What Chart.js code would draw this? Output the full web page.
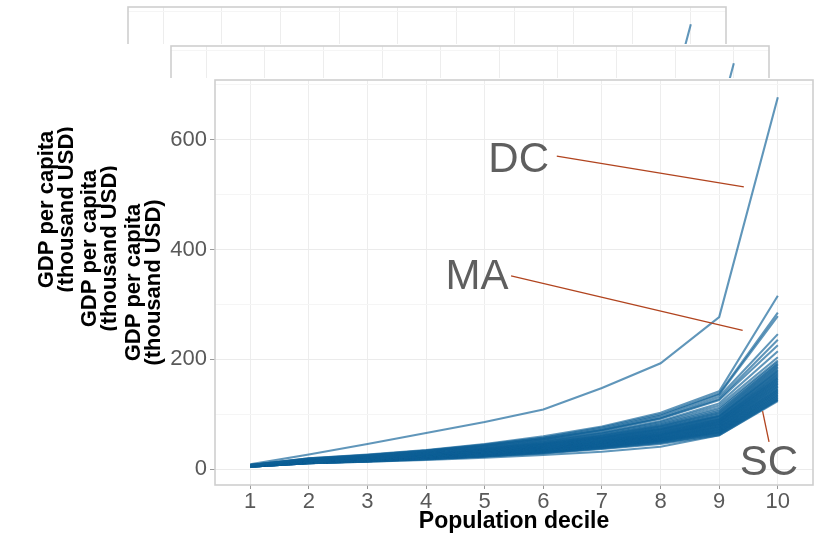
<!DOCTYPE html>
<html>
<head>
<meta charset="utf-8">
<script src="https://cdn.jsdelivr.net/npm/chart.js@4.4.1/dist/chart.umd.min.js"></script>
<style>
  body { margin: 0; background: #fff; overflow: hidden; }
  .panel { position: absolute; background: #fff; }
</style>
</head>
<body>
<canvas id="panel1" class="panel" width="713" height="461" style="left:30px;top:5px"></canvas>
<canvas id="panel2" class="panel" width="713" height="461" style="left:73px;top:44px"></canvas>
<canvas id="panel3" class="panel" width="713" height="461" style="left:117px;top:78px"></canvas>
<script>
const deciles = [1, 2, 3, 4, 5, 6, 7, 8, 9, 10];

const stateCodes = [
  "DC", "MA", "NY", "CT", "CA", "NJ", "WA", "IL", "MD", "DE", "CO", "MN", "AK",
  "WY", "ND", "NE", "VA", "TX", "NH", "HI", "IA", "SD", "PA", "OR", "RI", "UT",
  "KS", "WI", "OH", "GA", "NC", "IN", "NV", "LA", "MI", "TN", "AZ", "MO", "VT",
  "FL", "OK", "ME", "NM", "KY", "AL", "ID", "MT", "AR", "WV", "MS", "SC"
];

// GDP per capita (thousand USD) by population decile, one row per state
const stateGdp = [
  [9, 27, 46, 66, 86, 109, 148, 193, 277, 677],
  [8, 20, 27, 35, 46, 60, 78, 103, 142, 316],
  [8, 20, 26, 34, 45, 58, 76, 100, 138, 285],
  [8, 19, 26, 34, 44, 57, 74, 98, 136, 279],
  [7, 18, 25, 33, 43, 55, 72, 95, 132, 246],
  [8, 19, 25, 33, 43, 55, 71, 93, 128, 236],
  [7, 18, 24, 32, 42, 54, 70, 92, 126, 226],
  [7, 17, 23, 31, 40, 52, 67, 88, 120, 215],
  [8, 18, 24, 31, 40, 51, 66, 86, 116, 204],
  [7, 17, 23, 30, 39, 50, 65, 84, 112, 198],
  [7, 17, 22, 29, 38, 49, 63, 82, 109, 195],
  [7, 16, 22, 29, 38, 48, 62, 80, 106, 192],
  [8, 17, 23, 29, 37, 47, 61, 79, 104, 190],
  [7, 16, 22, 28, 37, 47, 60, 78, 102, 187],
  [7, 16, 21, 28, 36, 46, 59, 76, 100, 185],
  [7, 16, 21, 27, 35, 45, 58, 75, 98, 182],
  [7, 16, 21, 27, 35, 45, 58, 74, 97, 180],
  [6, 15, 20, 27, 34, 44, 57, 73, 96, 178],
  [7, 16, 21, 27, 34, 44, 56, 72, 95, 176],
  [7, 15, 20, 26, 34, 43, 55, 71, 93, 174],
  [7, 15, 20, 26, 33, 42, 54, 70, 92, 172],
  [6, 15, 20, 26, 33, 42, 54, 69, 91, 170],
  [6, 15, 20, 25, 32, 41, 53, 68, 90, 168],
  [6, 14, 19, 25, 32, 41, 52, 67, 89, 166],
  [7, 15, 19, 25, 32, 40, 52, 66, 88, 165],
  [6, 14, 19, 25, 31, 40, 51, 65, 87, 163],
  [6, 14, 19, 24, 31, 39, 50, 64, 86, 161],
  [6, 14, 19, 24, 31, 39, 50, 64, 85, 160],
  [6, 14, 18, 24, 30, 38, 49, 63, 84, 158],
  [6, 14, 18, 24, 30, 38, 49, 62, 83, 156],
  [6, 13, 18, 23, 30, 38, 48, 62, 82, 155],
  [6, 13, 18, 23, 29, 37, 48, 61, 81, 153],
  [6, 13, 18, 23, 29, 37, 47, 60, 80, 151],
  [6, 13, 17, 23, 29, 36, 46, 59, 79, 150],
  [6, 13, 17, 22, 28, 36, 46, 59, 78, 148],
  [6, 13, 17, 22, 28, 35, 45, 58, 77, 146],
  [6, 13, 17, 22, 28, 35, 45, 57, 76, 145],
  [6, 12, 17, 22, 27, 35, 44, 56, 75, 143],
  [6, 12, 16, 21, 27, 34, 44, 56, 74, 142],
  [6, 12, 16, 21, 27, 34, 43, 55, 73, 140],
  [6, 12, 16, 21, 26, 33, 43, 54, 72, 139],
  [6, 12, 16, 21, 26, 33, 42, 54, 71, 137],
  [5, 12, 16, 20, 26, 33, 42, 53, 70, 136],
  [5, 12, 16, 20, 25, 32, 41, 52, 69, 134],
  [5, 12, 15, 20, 25, 32, 41, 52, 68, 133],
  [5, 11, 15, 20, 25, 31, 40, 51, 67, 131],
  [5, 11, 15, 19, 24, 31, 40, 50, 66, 130],
  [5, 11, 15, 19, 24, 30, 39, 49, 65, 128],
  [5, 11, 15, 19, 24, 30, 38, 48, 64, 127],
  [5, 11, 14, 18, 23, 29, 37, 46, 62, 126],
  [5, 11, 14, 17, 21, 26, 32, 41, 62, 124]
];

const yTickLabels = [0, 200, 400, 600];

// callouts in data units: label, text anchor, leader line start and end
const calloutLabels = ["DC", "MA", "SC"];
const calloutTextAt = [[5.58, 563], [4.87, 350], [9.85, 10]];
const calloutLineFrom = [[6.23, 570], [5.45, 352], [9.74, 106]];
const calloutLineTo = [[9.42, 514], [9.40, 253], [9.85, 50]];

const FONT = '"Liberation Sans", Arial, Helvetica, sans-serif';
Chart.defaults.font.family = FONT;

// frame round the panel plus the state callouts
const panelDecor = {
  id: "panelDecor",
  afterDatasetsDraw(chart) {
    const { ctx, chartArea: a } = chart;
    const xs = chart.scales.x;
    const ys = chart.scales.y;
    ctx.save();
    ctx.strokeStyle = "#cfcfcf";
    ctx.lineWidth = 1.6;
    ctx.strokeRect(a.left, a.top, a.right - a.left, a.bottom - a.top);

    calloutLabels.forEach((label, i) => {
      ctx.strokeStyle = "#b1441f";
      ctx.lineWidth = 1.3;
      ctx.beginPath();
      ctx.moveTo(xs.getPixelForValue(calloutLineFrom[i][0]), ys.getPixelForValue(calloutLineFrom[i][1]));
      ctx.lineTo(xs.getPixelForValue(calloutLineTo[i][0]), ys.getPixelForValue(calloutLineTo[i][1]));
      ctx.stroke();

      ctx.fillStyle = "#5f5f5f";
      ctx.font = "42px " + FONT;
      ctx.textAlign = "center";
      ctx.textBaseline = "middle";
      ctx.fillText(label, xs.getPixelForValue(calloutTextAt[i][0]), ys.getPixelForValue(calloutTextAt[i][1]));
    });
    ctx.restore();
  }
};

function buildChart(canvasId) {
  const datasets = stateCodes.map((code, i) => ({
    label: code,
    data: deciles.map((d, j) => ({ x: d, y: stateGdp[i][j] })),
    borderColor: "rgba(14, 96, 150, 0.66)",
    borderWidth: 2.1,
    pointRadius: 0,
    tension: 0,
    fill: false
  }));

  return new Chart(document.getElementById(canvasId), {
    type: "line",
    data: { datasets: datasets },
    plugins: [panelDecor],
    options: {
      responsive: false,
      animation: false,
      devicePixelRatio: 1,
      layout: { autoPadding: false, padding: { top: 2, right: 17, bottom: 0, left: 0 } },
      plugins: { legend: { display: false }, tooltip: { enabled: false } },
      scales: {
        x: {
          type: "linear",
          min: 0.4,
          max: 10.6,
          afterFit: scale => {
            scale.height = 54;
            scale.paddingLeft = 0;
            scale.paddingRight = 0;
          },
          border: { display: false },
          grid: { color: "#ededed", tickColor: "#999", tickLength: 4 },
          ticks: {
            stepSize: 1,
            includeBounds: false,
            padding: 0,
            color: "#595959",
            font: { size: 22 }
          },
          title: {
            display: true,
            text: "Population decile",
            color: "#000",
            font: { size: 23, weight: "bold", lineHeight: 1 },
            padding: { top: 0, bottom: 6 }
          }
        },
        y: {
          type: "linear",
          min: -28.5,
          max: 708.5,
          afterFit: scale => {
            scale.width = 98;
            scale.paddingTop = 0;
            scale.paddingBottom = 0;
          },
          border: { display: false },
          grid: {
            color: ctx => yTickLabels.includes(ctx.tick.value) ? "#ebebeb" : "#f5f5f5",
            tickColor: ctx => yTickLabels.includes(ctx.tick.value) ? "#999" : "rgba(0,0,0,0)",
            tickLength: 5
          },
          ticks: {
            stepSize: 100,
            includeBounds: false,
            padding: 3,
            color: "#595959",
            font: { size: 22 },
            callback: v => yTickLabels.includes(v) ? v : ""
          },
          title: {
            display: true,
            text: ["GDP per capita", "(thousand USD)"],
            color: "#000",
            font: { size: 22, weight: "bold", lineHeight: 0.95 },
            padding: { top: 6, bottom: 0 }
          }
        }
      }
    }
  });
}

buildChart("panel1");
buildChart("panel2");
buildChart("panel3");
</script>
</body>
</html>
